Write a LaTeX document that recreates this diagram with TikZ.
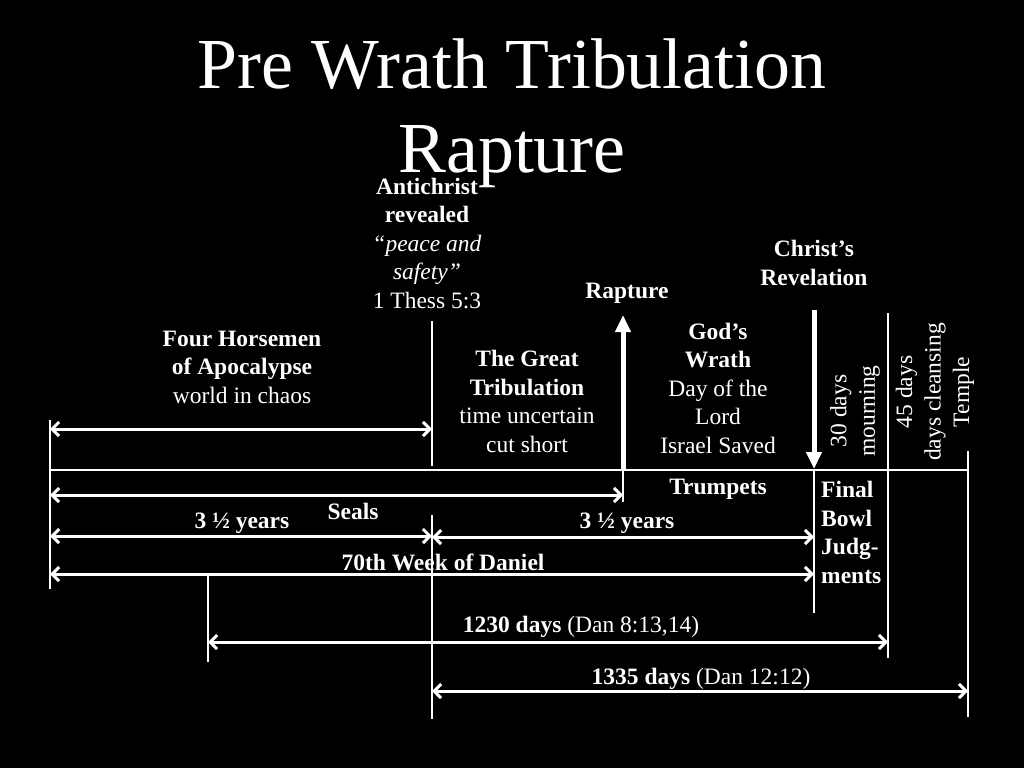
\documentclass[tikz,border=0pt]{standalone}
\usepackage{fontspec}
\setmainfont{Liberation Serif}
\usetikzlibrary{arrows.meta}
\begin{document}
\begin{tikzpicture}[x=1pt,y=-1pt,
  txt/.style={text=white, inner sep=0pt, align=center, anchor=base, font=\fontsize{23.5}{28.5}\selectfont},
  bx/.style={txt, font=\fontsize{23.5}{28.5}\selectfont\bfseries},
  span/.style={draw=white, line width=3pt, {Straight Barb[length=7pt,width=14pt]}-{Straight Barb[length=7pt,width=14pt]}},
  tick/.style={draw=white, line width=2pt},
  bigarrow/.style={draw=white, fill=white, line width=5pt, -{Triangle[length=17pt,width=15pt]}}]
\fill[black] (0,0) rectangle (1024,768);
\useasboundingbox (0,0) rectangle (1024,768);

% title (anchor base = baseline of last line)
\node[txt, font=\fontsize{71.8}{84}\selectfont] (title) at (512,172) {Pre Wrath Tribulation\\Rapture};

% coordinates
\coordinate (base0) at (50,470);   \coordinate (base1) at (968,470);
\coordinate (v0t) at (50,420);     \coordinate (v0b) at (50,589);
\coordinate (v1t) at (432,321);    \coordinate (v1b) at (432,466);
\coordinate (v2t) at (432,515);    \coordinate (v2b) at (432,719);
\coordinate (v3t) at (208,576);    \coordinate (v3b) at (208,662);
\coordinate (v4t) at (623,470);    \coordinate (v4b) at (623,502);
\coordinate (v5t) at (814,469);    \coordinate (v5b) at (814,613);
\coordinate (v6t) at (888,313);    \coordinate (v6b) at (888,658);
\coordinate (v7t) at (968,451);    \coordinate (v7b) at (968,717);
\coordinate (rapB) at (623,471);   \coordinate (rapT) at (623,315);
\coordinate (revT) at (814,310);   \coordinate (revB) at (814,469);

\coordinate (h1l) at (50,429);  \coordinate (h1r) at (432,429);
\coordinate (sl) at (50,495);   \coordinate (sr) at (623,495);
\coordinate (y1l) at (50,536);  \coordinate (y1r) at (432,536);
\coordinate (y2l) at (432,537); \coordinate (y2r) at (814,537);
\coordinate (wl) at (50,574);   \coordinate (wr) at (814,574);
\coordinate (d1l) at (208,642); \coordinate (d1r) at (888,642);
\coordinate (d2l) at (432,691); \coordinate (d2r) at (968,691);

% lines
\draw[tick] (base0) -- (base1);
\foreach \v in {v0,v1,v2,v3,v4,v5,v6,v7} \draw[tick] (\v t) -- (\v b);

% big arrows
\draw[bigarrow] (rapB) -- (rapT);
\draw[bigarrow] (revT) -- (revB);

% spans
\draw[span] (h1l) -- (h1r);
\draw[span] (sl) -- (sr);
\draw[span] (y1l) -- (y1r);
\draw[span] (y2l) -- (y2r);
\draw[span] (wl) -- (wr);
\draw[span] (d1l) -- (d1r);
\draw[span] (d2l) -- (d2r);

% texts (multi-line nodes: base = baseline of last line)
\node[txt] (horse) at (242,403) {\textbf{Four Horsemen}\\\textbf{of Apocalypse}\\world in chaos};
\node[txt] (anti) at (427,308) {\textbf{Antichrist}\\\textbf{revealed}\\\textit{“peace and}\\\textit{safety”}\\1 Thess 5:3};
\node[bx] (raplab) at (627,298) {Rapture};
\node[txt] (great) at (527,452) {\textbf{The Great}\\\textbf{Tribulation}\\time uncertain\\cut short};
\node[txt] (wrath) at (718,453) {\textbf{God’s}\\\textbf{Wrath}\\Day of the\\Lord\\Israel Saved};
\node[bx] (christ) at (814,285) {Christ’s\\Revelation};
\node[txt, rotate=90, anchor=center] (mourn) at (855,411) {30 days\\mourning};
\node[txt, rotate=90, anchor=center] (clean) at (935,392) {45 days\\days cleansing\\Temple};
\node[bx] (trump) at (718,494) {Trumpets};
\node[bx, align=left, anchor=base west] (bowl) at (821,583) {Final\\Bowl\\Judg-\\ments};
\node[bx] (seals) at (353,519) {Seals};
\node[bx] (yrs1) at (242,528) {3 ½ years};
\node[bx] (yrs2) at (627,528) {3 ½ years};
\node[bx] (week) at (443,570) {70th Week of Daniel};
\node[txt] (d1230) at (581,632) {\textbf{1230 days} (Dan 8:13,14)};
\node[txt] (d1335) at (701,684) {\textbf{1335 days} (Dan 12:12)};
\end{tikzpicture}
\end{document}
